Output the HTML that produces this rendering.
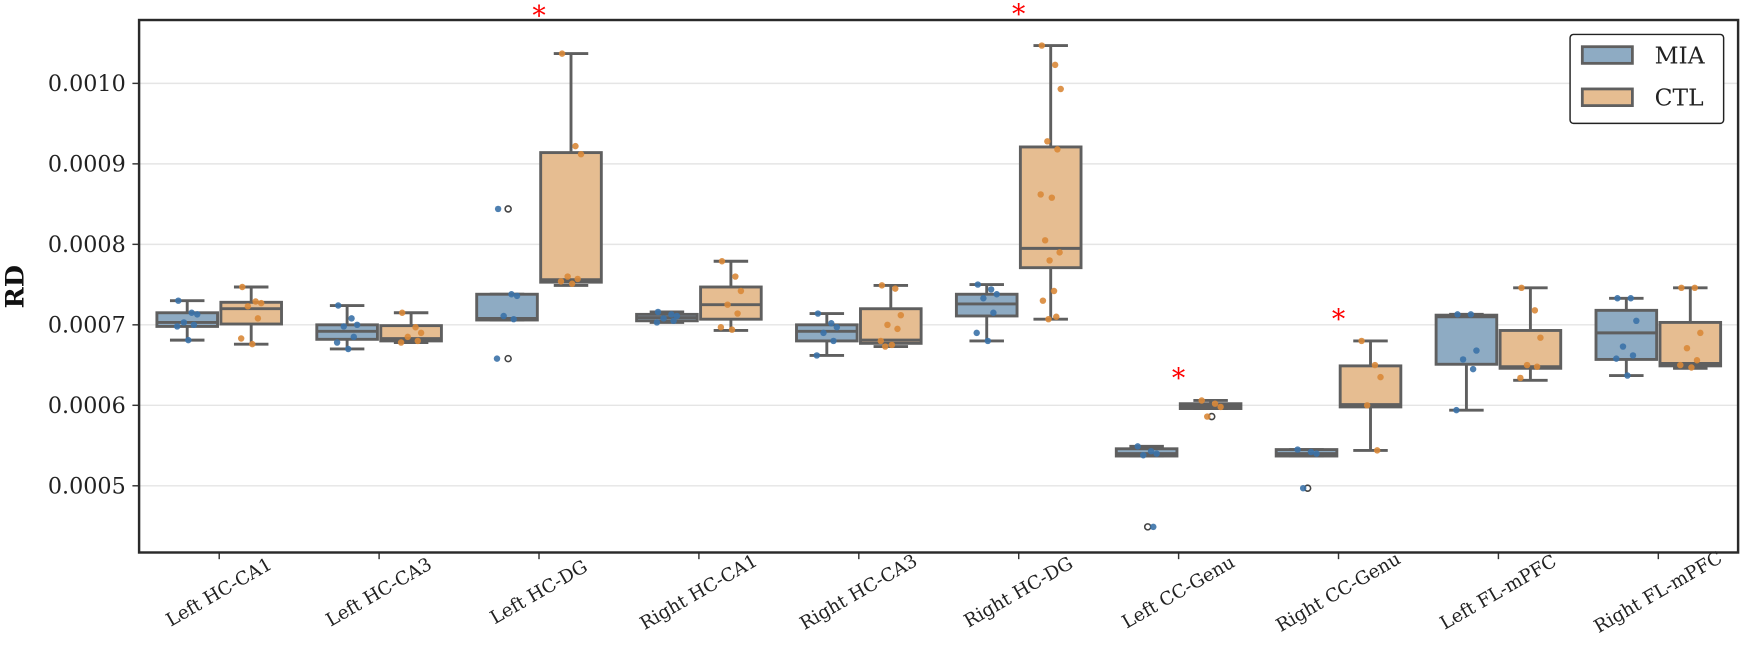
<!DOCTYPE html>
<html><head><meta charset="utf-8"><style>
html,body{margin:0;padding:0;background:#fff;}
svg{display:block;}
text{font-family:"DejaVu Serif","Liberation Serif",serif;}
</style></head><body>
<svg id="chart" width="1747" height="667" viewBox="0 0 1570 600" preserveAspectRatio="none" xmlns="http://www.w3.org/2000/svg">
<g id="grid"></g><g id="marks"></g><g id="axes"></g>
</svg>
<script>
const categories=["Left HC-CA1","Left HC-CA3","Left HC-DG","Right HC-CA1","Right HC-CA3","Right HC-DG","Left CC-Genu","Right CC-Genu","Left FL-mPFC","Right FL-mPFC"];
const yTicks=[0.0005,0.0006,0.0007,0.0008,0.0009,0.0010];
const yTickLabels=["0.0005","0.0006","0.0007","0.0008","0.0009","0.0010"];
// [whiskerLow, q1, median, q3, whiskerHigh]
const miaStats=[[0.000681,0.000698,0.000703,0.000715,0.000730],[0.000670,0.000682,0.000692,0.000700,0.000724],[0.000706,0.000706,0.000708,0.000738,0.000738],[0.000703,0.000705,0.000709,0.000713,0.000716],[0.000662,0.000680,0.000692,0.000700,0.000714],[0.000680,0.000711,0.000726,0.000738,0.000750],[0.000537,0.000537,0.000540,0.000546,0.000549],[0.000537,0.000537,0.000540,0.000545,0.000545],[0.000594,0.000651,0.000710,0.000712,0.000713],[0.000637,0.000657,0.000690,0.000718,0.000733]];
const ctlStats=[[0.000676,0.000701,0.000720,0.000728,0.000747],[0.000678,0.000680,0.000683,0.000699,0.000715],[0.000749,0.000753,0.000756,0.000914,0.001037],[0.000693,0.000707,0.000725,0.000747,0.000779],[0.000673,0.000677,0.000681,0.000720,0.000749],[0.000707,0.000771,0.000795,0.000921,0.001047],[0.000596,0.000596,0.000599,0.000602,0.000606],[0.000544,0.000598,0.000601,0.000649,0.000680],[0.000631,0.000646,0.000648,0.000693,0.000746],[0.000646,0.000649,0.000652,0.000703,0.000746]];
const miaOutliers=[[],[],[0.000844,0.000658],[],[],[],[0.000449],[0.000497],[],[]];
const ctlOutliers=[[],[],[],[],[],[],[0.000586],[],[],[]];
const miaPoints=[[0.000730,0.000715,0.000713,0.000703,0.000700,0.000698,0.000681],[0.000724,0.000708,0.000700,0.000698,0.000685,0.000678,0.000670],[0.000844,0.000738,0.000736,0.000711,0.000707,0.000658],[0.000716,0.000713,0.000711,0.000708,0.000705,0.000703],[0.000714,0.000702,0.000697,0.000690,0.000680,0.000662],[0.000750,0.000744,0.000738,0.000733,0.000715,0.000690,0.000680],[0.000549,0.000543,0.000540,0.000538,0.000449],[0.000545,0.000542,0.000540,0.000497],[0.000713,0.000713,0.000668,0.000657,0.000645,0.000594],[0.000733,0.000733,0.000705,0.000673,0.000662,0.000658,0.000637]];
const ctlPoints=[[0.000747,0.000729,0.000727,0.000723,0.000708,0.000683,0.000676],[0.000715,0.000697,0.000690,0.000685,0.000680,0.000678],[0.001037,0.000922,0.000912,0.000760,0.000757,0.000754,0.000751],[0.000779,0.000760,0.000742,0.000725,0.000714,0.000697,0.000694],[0.000749,0.000745,0.000712,0.000700,0.000695,0.000680,0.000675,0.000673],[0.001047,0.001023,0.000993,0.000928,0.000918,0.000862,0.000858,0.000805,0.000790,0.000780,0.000742,0.000730,0.000710,0.000707],[0.000606,0.000602,0.000598,0.000586],[0.000680,0.000650,0.000635,0.000600,0.000544],[0.000746,0.000718,0.000684,0.000650,0.000648,0.000634],[0.000746,0.000746,0.000690,0.000671,0.000656,0.000650,0.000647]];
const significant=[false,false,true,false,false,true,true,true,false,false];
const starLevel=[0,0,0.001089,0,0,0.001091,0.000639,0.000712,0,0];

const L=125,R=1562,T=18,B=497;
const NS="http://www.w3.org/2000/svg";
function y(v){return 437-(v-0.0005)*724000;}
function xc(i){return 197+i*143.7;}
function mk(tag,attrs,parent){const e=document.createElementNS(NS,tag);for(const k in attrs)e.setAttribute(k,attrs[k]);parent.appendChild(e);return e;}
const grid=document.getElementById('grid'),marks=document.getElementById('marks'),axes=document.getElementById('axes');
yTicks.forEach((t,i)=>{
  const gl=mk('line',{x1:L,x2:R,y1:y(t),y2:y(t),stroke:'#e5e5e5','stroke-width':1.3},grid);
  
  
  const tk=mk('line',{x1:L-6,x2:L,y1:y(t),y2:y(t),stroke:'#333','stroke-width':1.3},axes);
  
  
  const tl=mk('text',{x:L-12,y:y(t)+7,'text-anchor':'end','font-size':20,fill:'#222'},axes);
  tl.textContent=yTickLabels[i];
  
  
});
const BW=57.5;
function drawBox(st,x0,fill,dots,dotColor,outl,jit){
  const cx=x0+BW/2,cw=15.5;
  const g=mk('g',{},marks);
  
  
  const s='#5f5f5f',sw=2.6;
  const w1=mk('line',{x1:cx,x2:cx,y1:y(st[0]),y2:y(st[1]),stroke:s,'stroke-width':sw},g);
  
  
  const w2=mk('line',{x1:cx,x2:cx,y1:y(st[3]),y2:y(st[4]),stroke:s,'stroke-width':sw},g);
  
  
  const c1=mk('line',{x1:cx-cw,x2:cx+cw,y1:y(st[0]),y2:y(st[0]),stroke:s,'stroke-width':sw},g);
  
  
  const c2=mk('line',{x1:cx-cw,x2:cx+cw,y1:y(st[4]),y2:y(st[4]),stroke:s,'stroke-width':sw},g);
  
  
  const bx=mk('rect',{x:x0+1.5,y:y(st[3]),width:BW-3,height:Math.max(y(st[1])-y(st[3]),1),fill:fill,stroke:s,'stroke-width':sw},g);
  
  
  const md=mk('line',{x1:x0+1.5,x2:x0+BW-1.5,y1:y(st[2]),y2:y(st[2]),stroke:s,'stroke-width':sw},g);
  
  
  outl.forEach(v=>{
    const o=mk('circle',{cx:cx+1,cy:y(v),r:2.7,fill:'none',stroke:'#444','stroke-width':1.4},g);
    
    
  });
  dots.forEach((v,k)=>{
    const dx=jit[k%jit.length];
    const d=mk('circle',{cx:cx+dx,cy:y(v),r:2.9,fill:dotColor,'fill-opacity':0.9},g);
    
    
  });
}
const jit=[-8,4,9,-3,6,-9,1,-5,8,-1,3,-7,5,-2];
categories.forEach((c,i)=>{
  const x=xc(i);
  drawBox(miaStats[i],x-BW,'#8eabc3',miaPoints[i],'#3b72a8',miaOutliers[i],jit);
  drawBox(ctlStats[i],x,'#e6bd91',ctlPoints[i],'#d98838',ctlOutliers[i],jit);
  const tk=mk('line',{x1:x,x2:x,y1:B,y2:B+6,stroke:'#333','stroke-width':1.3},axes);
  
  
  const tl=mk('text',{x:x,y:538,'text-anchor':'middle','font-size':16.5,fill:'#222',transform:`rotate(-30 ${x} 533)`},axes);
  tl.textContent=c;
  
  
  if(significant[i]){
    const st=mk('text',{x:x,y:y(starLevel[i])+12,'text-anchor':'middle','font-size':24,fill:'#ff0000'},marks);
    st.textContent='*';
    
    
  }
});
const fr=mk('rect',{x:L,y:T,width:R-L,height:B-T,fill:'none',stroke:'#2a2a2a','stroke-width':2.2},axes);


const yl=mk('text',{x:21,y:258,'text-anchor':'middle','font-size':23,'font-weight':'bold',fill:'#111',transform:'rotate(-90 21 258)'},axes);
yl.textContent='RD';


const lg=mk('g',{},axes);


mk('rect',{x:1411,y:31,width:138,height:80,rx:3,fill:'#fff',stroke:'#222','stroke-width':1.3},lg);
const e1=mk('rect',{x:1422,y:42,width:45,height:15,fill:'#8eabc3',stroke:'#5f5f5f','stroke-width':2.5},lg);


const e2=mk('rect',{x:1422,y:80,width:45,height:15,fill:'#e6bd91',stroke:'#5f5f5f','stroke-width':2.5},lg);


const t1=mk('text',{x:1487,y:57,'font-size':21,fill:'#222'},lg);t1.textContent='MIA';


const t2=mk('text',{x:1487,y:95,'font-size':21,fill:'#222'},lg);t2.textContent='CTL';


</script>
</body></html>
